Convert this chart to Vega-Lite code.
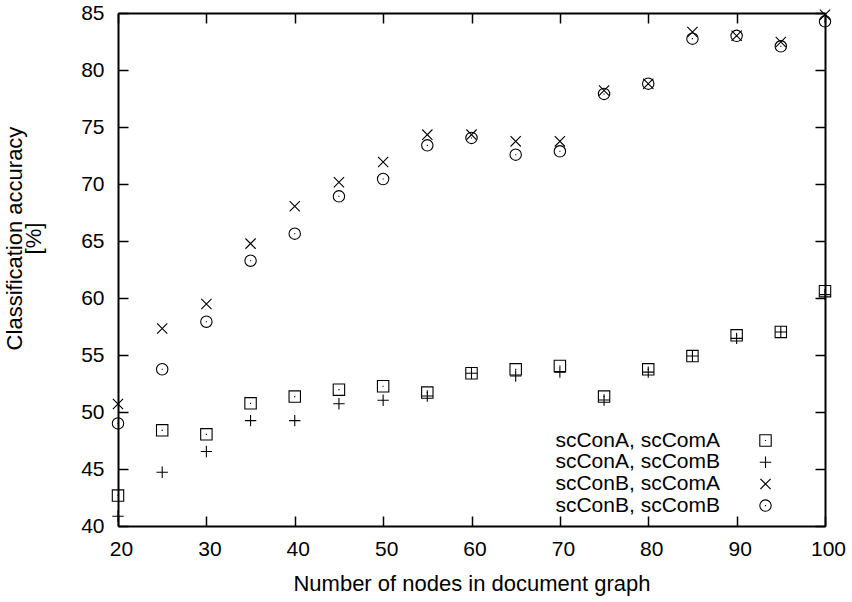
{
  "$schema": "https://vega.github.io/schema/vega-lite/v6.json",
  "width": 707,
  "height": 513,
  "autosize": "none",
  "padding": {"left": 118, "top": 13, "right": 27, "bottom": 76},
  "background": "white",
  "config": {
    "view": {"stroke": null},
    "font": "Liberation Sans",
    "axis": {
      "labelFont": "Liberation Sans",
      "labelFontSize": 21,
      "labelColor": "black",
      "titleFont": "Liberation Sans",
      "titleFontSize": 22,
      "titleFontWeight": "normal",
      "titleColor": "black",
      "domainColor": "black",
      "domainWidth": 2,
      "tickColor": "black",
      "tickWidth": 1.5,
      "tickSize": -10,
      "grid": false,
      "labelFlush": false,
      "labelOverlap": false
    },
    "legend": {
      "labelFont": "Liberation Sans",
      "labelFontSize": 21,
      "labelColor": "black",
      "labelLimit": 400
    }
  },
  "datasets": {
    "acc": [
      {"n": 20, "acc": 42.67, "series": "scConA, scComA"},
      {"n": 25, "acc": 48.39, "series": "scConA, scComA"},
      {"n": 30, "acc": 48.04, "series": "scConA, scComA"},
      {"n": 35, "acc": 50.76, "series": "scConA, scComA"},
      {"n": 40, "acc": 51.35, "series": "scConA, scComA"},
      {"n": 45, "acc": 51.96, "series": "scConA, scComA"},
      {"n": 50, "acc": 52.26, "series": "scConA, scComA"},
      {"n": 55, "acc": 51.70, "series": "scConA, scComA"},
      {"n": 60, "acc": 53.40, "series": "scConA, scComA"},
      {"n": 65, "acc": 53.74, "series": "scConA, scComA"},
      {"n": 70, "acc": 54.04, "series": "scConA, scComA"},
      {"n": 75, "acc": 51.35, "series": "scConA, scComA"},
      {"n": 80, "acc": 53.74, "series": "scConA, scComA"},
      {"n": 85, "acc": 54.91, "series": "scConA, scComA"},
      {"n": 90, "acc": 56.73, "series": "scConA, scComA"},
      {"n": 95, "acc": 57.02, "series": "scConA, scComA"},
      {"n": 100, "acc": 60.6, "series": "scConA, scComA"},
      {"n": 20, "acc": 40.85, "series": "scConA, scComB"},
      {"n": 25, "acc": 44.72, "series": "scConA, scComB"},
      {"n": 30, "acc": 46.54, "series": "scConA, scComB"},
      {"n": 35, "acc": 49.24, "series": "scConA, scComB"},
      {"n": 40, "acc": 49.24, "series": "scConA, scComB"},
      {"n": 45, "acc": 50.73, "series": "scConA, scComB"},
      {"n": 50, "acc": 51.03, "series": "scConA, scComB"},
      {"n": 55, "acc": 51.41, "series": "scConA, scComB"},
      {"n": 60, "acc": 53.40, "series": "scConA, scComB"},
      {"n": 65, "acc": 53.16, "series": "scConA, scComB"},
      {"n": 70, "acc": 53.5, "series": "scConA, scComB"},
      {"n": 75, "acc": 51.05, "series": "scConA, scComB"},
      {"n": 80, "acc": 53.5, "series": "scConA, scComB"},
      {"n": 85, "acc": 54.91, "series": "scConA, scComB"},
      {"n": 90, "acc": 56.46, "series": "scConA, scComB"},
      {"n": 95, "acc": 57.02, "series": "scConA, scComB"},
      {"n": 100, "acc": 60.3, "series": "scConA, scComB"},
      {"n": 20, "acc": 50.7, "series": "scConB, scComA"},
      {"n": 25, "acc": 57.33, "series": "scConB, scComA"},
      {"n": 30, "acc": 59.47, "series": "scConB, scComA"},
      {"n": 35, "acc": 64.77, "series": "scConB, scComA"},
      {"n": 40, "acc": 68.04, "series": "scConB, scComA"},
      {"n": 45, "acc": 70.15, "series": "scConB, scComA"},
      {"n": 50, "acc": 71.93, "series": "scConB, scComA"},
      {"n": 55, "acc": 74.33, "series": "scConB, scComA"},
      {"n": 60, "acc": 74.33, "series": "scConB, scComA"},
      {"n": 65, "acc": 73.74, "series": "scConB, scComA"},
      {"n": 70, "acc": 73.74, "series": "scConB, scComA"},
      {"n": 75, "acc": 78.2, "series": "scConB, scComA"},
      {"n": 80, "acc": 78.8, "series": "scConB, scComA"},
      {"n": 85, "acc": 83.33, "series": "scConB, scComA"},
      {"n": 90, "acc": 83.0, "series": "scConB, scComA"},
      {"n": 95, "acc": 82.46, "series": "scConB, scComA"},
      {"n": 100, "acc": 84.85, "series": "scConB, scComA"},
      {"n": 20, "acc": 49.0, "series": "scConB, scComB"},
      {"n": 25, "acc": 53.75, "series": "scConB, scComB"},
      {"n": 30, "acc": 57.92, "series": "scConB, scComB"},
      {"n": 35, "acc": 63.27, "series": "scConB, scComB"},
      {"n": 40, "acc": 65.64, "series": "scConB, scComB"},
      {"n": 45, "acc": 68.92, "series": "scConB, scComB"},
      {"n": 50, "acc": 70.44, "series": "scConB, scComB"},
      {"n": 55, "acc": 73.39, "series": "scConB, scComB"},
      {"n": 60, "acc": 74.04, "series": "scConB, scComB"},
      {"n": 65, "acc": 72.57, "series": "scConB, scComB"},
      {"n": 70, "acc": 72.87, "series": "scConB, scComB"},
      {"n": 75, "acc": 77.9, "series": "scConB, scComB"},
      {"n": 80, "acc": 78.8, "series": "scConB, scComB"},
      {"n": 85, "acc": 82.75, "series": "scConB, scComB"},
      {"n": 90, "acc": 83.0, "series": "scConB, scComB"},
      {"n": 95, "acc": 82.08, "series": "scConB, scComB"},
      {"n": 100, "acc": 84.27, "series": "scConB, scComB"}
    ]
  },
  "data": {"name": "acc"},
  "layer": [
    {
      "mark": {"type": "point", "filled": false, "strokeWidth": 1.1, "opacity": 1},
      "encoding": {
        "x": {
          "field": "n", "type": "quantitative",
          "scale": {"domain": [20, 100], "nice": false, "zero": false},
          "axis": {"orient": "bottom", "values": [20, 30, 40, 50, 60, 70, 80, 90, 100], "title": "Number of nodes in document graph", "labelPadding": 22, "titlePadding": 14, "labelOffset": 3}
        },
        "y": {
          "field": "acc", "type": "quantitative",
          "scale": {"domain": [40, 85], "nice": false, "zero": false},
          "axis": {"orient": "left", "values": [40, 45, 50, 55, 60, 65, 70, 75, 80, 85], "domain": false, "ticks": false, "labelPadding": 14, "title": ["Classification accuracy", "[%]"], "titleLineHeight": 19, "titleX": -92, "titleY": 225}
        },
        "shape": {
          "field": "series", "type": "nominal",
          "scale": {
            "domain": ["scConA, scComA", "scConA, scComB", "scConB, scComA", "scConB, scComB"],
            "range": [
              "M-1,-1L1,-1L1,1L-1,1Z M-0.1,0L0.1,0",
              "M-1,0L1,0 M0,-1L0,1",
              "M-0.9,-0.9L0.9,0.9 M-0.9,0.9L0.9,-0.9",
              "M1,0A1,1,0,1,1,-1,0A1,1,0,1,1,1,0Z M-0.1,0L0.1,0"
            ]
          },
          "legend": {
            "orient": "none",
            "legendX": 637,
            "legendY": 417,
            "title": null,
            "padding": 0,
            "labelAlign": "right",
            "labelOffset": -56,
            "labelFontSize": 21,
            "labelLimit": 400,
            "symbolSize": 130,
            "symbolStrokeWidth": 1.1,
            "symbolStrokeColor": "black",
            "symbolFillColor": "transparent",
            "rowPadding": -0.3
          }
        },
        "color": {"value": "black"},
        "size": {"value": 130}
      }
    },
    {
      "mark": {"type": "point", "opacity": 0},
      "encoding": {
        "x": {
          "field": "n", "type": "quantitative",
          "scale": {"domain": [20, 100], "nice": false, "zero": false},
          "axis": {"orient": "top", "values": [20, 30, 40, 50, 60, 70, 80, 90, 100], "labels": false, "title": null}
        },
        "y": {
          "field": "acc", "type": "quantitative",
          "scale": {"domain": [40, 85], "nice": false, "zero": false},
          "axis": {"orient": "left", "values": [40, 45, 50, 55, 60, 65, 70, 75, 80, 85], "labels": false, "title": null}
        }
      }
    },
    {
      "mark": {"type": "point", "opacity": 0},
      "encoding": {
        "x": {
          "field": "n", "type": "quantitative",
          "scale": {"domain": [20, 100], "nice": false, "zero": false},
          "axis": null
        },
        "y": {
          "field": "acc", "type": "quantitative",
          "scale": {"domain": [40, 85], "nice": false, "zero": false},
          "axis": {"orient": "right", "values": [40, 45, 50, 55, 60, 65, 70, 75, 80, 85], "labels": false, "title": null}
        }
      }
    }
  ],
  "resolve": {"axis": {"x": "independent", "y": "independent"}}
}
